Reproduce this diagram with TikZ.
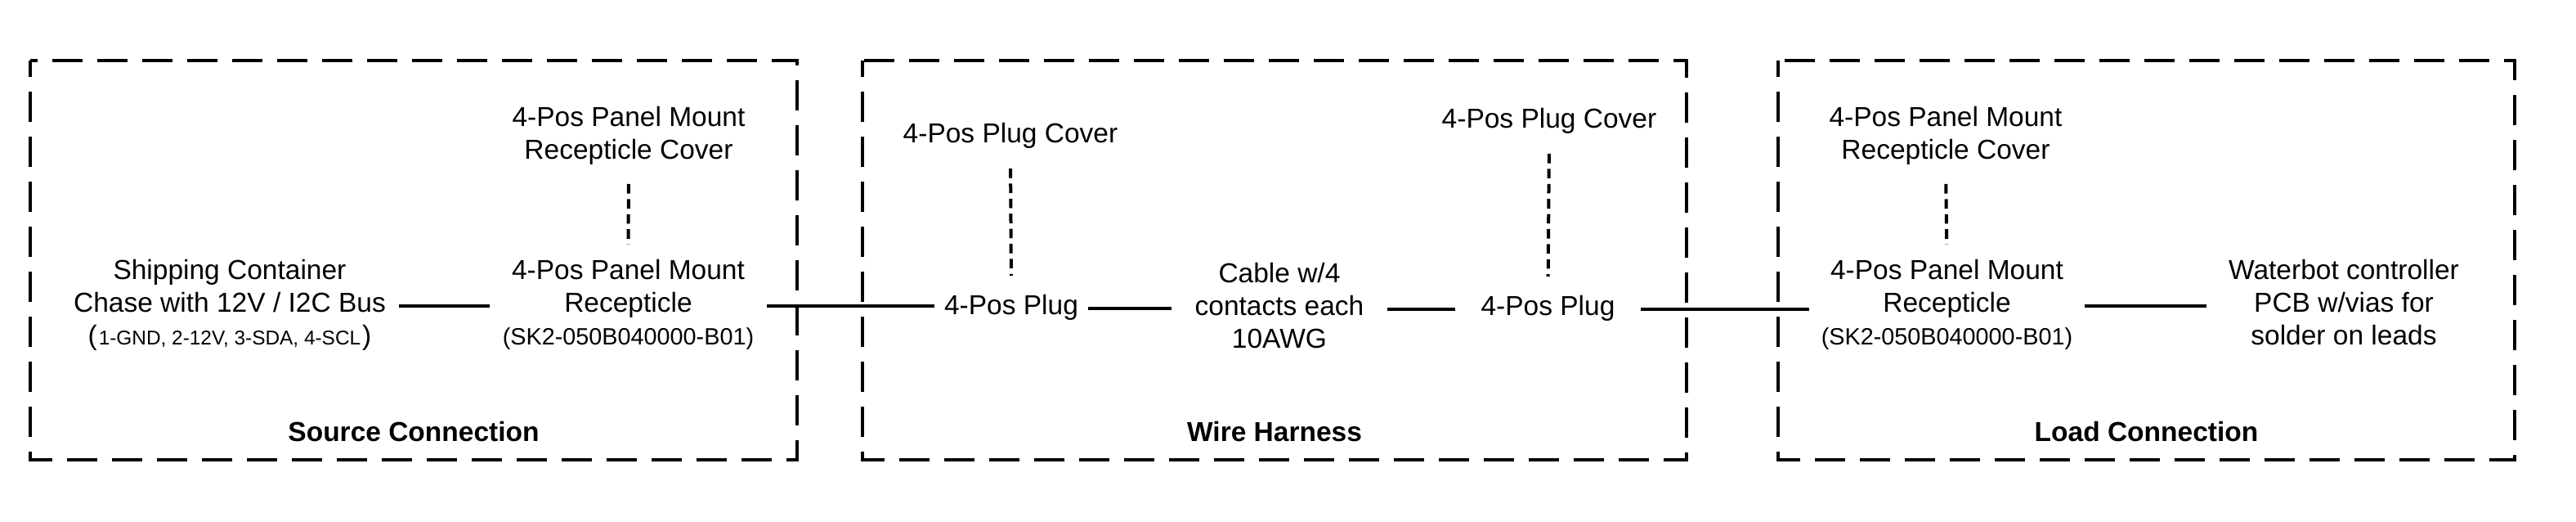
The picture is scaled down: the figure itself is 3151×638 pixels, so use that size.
\documentclass[tikz,border=0pt]{standalone}
\usepackage{fontspec}
\setmainfont{Liberation Sans}
\begin{document}
\begin{tikzpicture}[x=0.25pt,y=-0.25pt,
  txt/.style={inner sep=0pt, outer sep=0pt, align=center, font=\fontsize{8.375pt}{10pt}\selectfont},
  grouptitle/.style={inner sep=0pt, anchor=base, font=\fontsize{8.375pt}{10pt}\selectfont\bfseries},
  groupbox/.style={draw, line width=1pt, dash pattern=on 9.17pt off 4.58pt, dash phase=4.4pt},
  wire/.style={draw, line width=1pt},
  coverlink/.style={draw, line width=1pt, dash pattern=on 2.9pt off 1.7pt}]
\useasboundingbox (0,0) rectangle (3151,638);
% group boxes
\draw[groupbox] (37,74.5) rectangle (975,562);
\draw[groupbox] (1055,74.5) rectangle (2063,562);
\draw[groupbox] (2175,74.5) rectangle (3076,562);
\node[grouptitle] (srct) at (506,540) {Source Connection};
\node[grouptitle] (wiret) at (1559,540) {Wire Harness};
\node[grouptitle] (loadt) at (2625.5,540) {Load Connection};
% source
\node[txt, minimum width=103.5pt] (chase) at (281,374)
  {\strut Shipping Container\\\strut Chase with 12V / I2C Bus\\\strut (\kern0.5pt{\fontsize{6.1pt}{10pt}\selectfont 1-GND, 2-12V, 3-SDA, 4-SCL}\kern0.5pt)};
\node[txt, minimum width=84.75pt] (rec1) at (768.5,374)
  {\strut 4-Pos Panel Mount\\\strut Recepticle\\\strut{\fontsize{7.2pt}{10pt}\selectfont(SK2-050B040000-B01)}};
\node[txt] (cov1) at (769,167) {\strut 4-Pos Panel Mount\\\strut Recepticle Cover};
% harness
\node[txt, minimum width=47pt] (plug1) at (1237,377) {\strut 4-Pos Plug};
\node[txt] (pcov1) at (1236,167) {\strut 4-Pos Plug Cover};
\node[txt, minimum width=66pt] (cable) at (1565,378)
  {\strut Cable w/4\\\strut contacts each\\\strut 10AWG};
\node[txt, minimum width=56.75pt] (plug2) at (1893.5,378) {\strut 4-Pos Plug};
\node[txt] (pcov2) at (1895,149) {\strut 4-Pos Plug Cover};
% load
\node[txt, minimum width=84.25pt] (rec3) at (2381.5,374)
  {\strut 4-Pos Panel Mount\\\strut Recepticle\\\strut{\fontsize{7.2pt}{10pt}\selectfont(SK2-050B040000-B01)}};
\node[txt] (cov3) at (2380,167) {\strut 4-Pos Panel Mount\\\strut Recepticle Cover};
\node[txt, minimum width=84pt] (bot) at (2867,374)
  {\strut Waterbot controller\\\strut PCB w/vias for\\\strut solder on leads};
% connectors
\draw[wire] (chase.east) -- (rec1.west);
\draw[wire] (rec1.east) -- (rec1.east -| plug1.west);
\draw[wire] (plug1.east) -- (plug1.east -| cable.west);
\draw[wire] (cable.east) -- (cable.east -| plug2.west);
\draw[wire] (plug2.east) -- (plug2.east -| rec3.west);
\draw[wire] (rec3.east) -- (bot.west);
\draw[coverlink, shorten <=4.5pt, shorten >=3.75pt] (cov1.south) -- (rec1.north);
\draw[coverlink, shorten <=4.75pt, shorten >=5pt] (pcov1.south) -- (plug1.north);
\draw[coverlink, shorten <=4.75pt, shorten >=5pt] (pcov2.south) -- (plug2.north);
\draw[coverlink, shorten <=4.5pt, shorten >=3.75pt] (cov3.south) -- (rec3.north);
\end{tikzpicture}
\end{document}
